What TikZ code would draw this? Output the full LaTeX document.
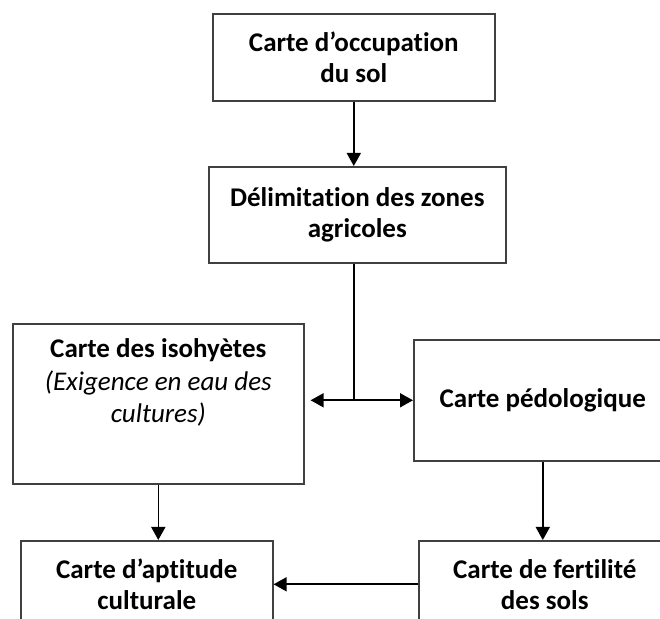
\documentclass[tikz,border=0pt]{standalone}
\usepackage{fontspec}
\setmainfont{Carlito}[Ligatures=NoCommon]
\usetikzlibrary{arrows.meta}
\tikzset{every picture/.style = {x=0.5pt, y=-0.5pt, line width=0.8pt}}
\tikzset{carte/.style = {draw=black!75, anchor=north west, align=center, inner sep=2pt, font=\fontsize{13.5}{15.5}\selectfont\bfseries}}
\tikzset{fleche/.style = {-{Triangle[length=6.5pt, width=7pt]}, black}}
\newcommand{\remarque}[1]{{\mdseries\itshape #1}}

\begin{document}
\begin{tikzpicture}
  \useasboundingbox (0, 0) rectangle (660, 619);
  \clip (0, 0) rectangle (660, 619);
  \node[carte, minimum width=141pt, minimum height=43.5pt] (occ) at (212, 13) {Carte d’occupation\\du sol};
  \node[carte, minimum width=148.5pt, minimum height=48pt] (delim) at (208, 166) {Délimitation des zones\\agricoles};
  \node[carte, minimum width=145.5pt, minimum height=80pt, text depth=23pt] (iso) at (12, 323)
    {Carte des isohyètes\\[1pt]\remarque{(Exigence en eau des}\\[0.5pt]\remarque{cultures)}};
  \node[carte, minimum width=129pt, minimum height=60.5pt] (pedo) at (413, 339) {Carte pédologique};
  \node[carte, minimum width=126pt, minimum height=43.5pt] (apt) at (20, 540) {Carte d’aptitude\\culturale};
  \node[carte, minimum width=126pt, minimum height=43.5pt] (fert) at (418, 540) {Carte de fertilité\\des sols};
  \coordinate (jonction) at (occ.south |- pedo.west);
  \draw[fleche] (occ.south) -- (occ.south |- delim.north);
  \draw (occ.south |- delim.south) -- (jonction);
  \draw[fleche, shorten >=3pt] (jonction) -- (iso.east |- jonction);
  \draw[fleche] (jonction) -- (pedo.west);
  \draw[fleche] (iso.south) -- (iso.south |- apt.north);
  \draw[fleche] (pedo.south) -- (pedo.south |- fert.north);
  \draw[fleche] (fert.west) -- (fert.west -| apt.east);
\end{tikzpicture}
\end{document}
